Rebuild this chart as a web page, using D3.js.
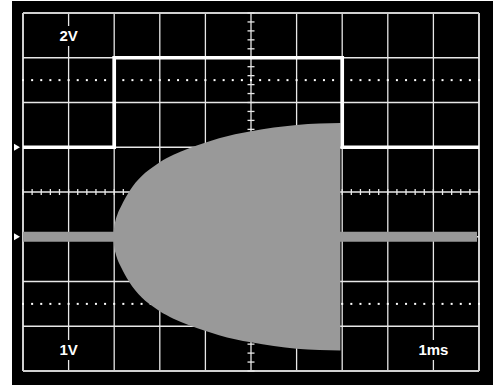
<!DOCTYPE html>
<html>
<head>
<meta charset="utf-8">
<script src="https://cdn.jsdelivr.net/npm/d3@7"></script>
<style>
  html, body { margin: 0; padding: 0; background: #fff; }
  svg { display: block; }
</style>
</head>
<body>
<svg id="scope" width="495" height="385"></svg>
<script>
// Values in screen divisions (10 across, 8 high, centre = 0)
const ch1Label = '2V';
const ch2Label = '1V';
const timeLabel = '1ms';

// channel 1: square wave (time div, level div)
const squareWave = [[0, 1], [2, 1], [2, 3], [7, 3], [7, 1], [10, 1]];

// channel 2: flat trace with a growing burst envelope
const ch2Base = -1;
const ch2Trace = [0, 10];
const envTime = [1.98, 2.0, 2.03, 2.07, 2.11, 2.16, 2.23, 2.31, 2.4, 2.53, 2.68, 2.85, 2.99, 3.3, 3.63, 3.99, 4.3, 4.65, 5.0, 5.5, 6.0, 6.5, 6.96];
const envAmp  = [0, 0.22, 0.37, 0.5, 0.6, 0.7, 0.84, 0.98, 1.12, 1.28, 1.43, 1.56, 1.66, 1.83, 1.97, 2.1, 2.2, 2.29, 2.36, 2.44, 2.5, 2.53, 2.54];

// markers on the left edge
const markerLevels = [1, -1];

const svg = d3.select('#scope');
const W = 495, H = 385;

const x = d3.scaleLinear().domain([0, 10]).range([23, 479]);
const y = d3.scaleLinear().domain([-4, 4]).range([371, 13]);

// screen
svg.append('rect')
    .attr('x', 12).attr('y', 1)
    .attr('width', 481).attr('height', H - 1)
    .attr('fill', '#000');

const grid = svg.append('g');

// major grid
d3.range(0, 11).forEach(i => {
    grid.append('line')
        .attr('x1', x(i)).attr('x2', x(i))
        .attr('y1', y(4)).attr('y2', y(-4))
        .attr('stroke', (i === 0 || i === 10) ? '#d0d0d0' : '#e8e8e8')
        .attr('stroke-width', (i === 0 || i === 10) ? 2 : 1.3);
});
d3.range(-4, 5).forEach(j => {
    grid.append('line')
        .attr('x1', x(0)).attr('x2', x(10))
        .attr('y1', y(j)).attr('y2', y(j))
        .attr('stroke', (j === -4 || j === 4) ? '#d0d0d0' : '#e8e8e8')
        .attr('stroke-width', (j === -4 || j === 4) ? 2 : 1.3);
});

// dotted lines
[2.5, -2.5].forEach(lv => {
    grid.selectAll(null)
        .data(d3.range(0, 51).map(k => k * 0.2))
        .join('rect')
        .attr('x', d => x(d) - 1)
        .attr('y', y(lv) - 1)
        .attr('width', 2).attr('height', 2)
        .attr('fill', '#fff');
});

// centre ticks
grid.selectAll(null)
    .data(d3.range(0, 51).map(k => k * 0.2))
    .join('line')
    .attr('x1', d => x(d)).attr('x2', d => x(d))
    .attr('y1', y(0) - 3).attr('y2', y(0) + 3)
    .attr('stroke', '#e8e8e8').attr('stroke-width', 1.3);
grid.selectAll(null)
    .data(d3.range(0, 41).map(k => -4 + k * 0.2))
    .join('line')
    .attr('x1', x(5) - 3.5).attr('x2', x(5) + 3.5)
    .attr('y1', d => y(d)).attr('y2', d => y(d))
    .attr('stroke', '#e8e8e8').attr('stroke-width', 1.3);

// labels with black boxes
const labels = [
    { text: ch1Label, t: 1, base: 41 },
    { text: ch2Label, t: 1, base: 355 },
    { text: timeLabel, t: 9, base: 355 }
];
labels.forEach(l => {
    const g = svg.append('g');
    const txt = g.append('text')
        .attr('x', x(l.t)).attr('y', l.base)
        .attr('text-anchor', 'middle')
        .attr('font-family', 'Liberation Sans, Arial, sans-serif')
        .attr('font-weight', 'bold')
        .attr('font-size', '15px')
        .attr('fill', '#fff')
        .text(l.text);
    const bb = txt.node().getBBox();
    g.insert('rect', 'text')
        .attr('x', bb.x - 2).attr('y', bb.y - 1)
        .attr('width', bb.width + 4).attr('height', bb.height + 3)
        .attr('fill', '#000');
});

// channel 2 trace
svg.append('line')
    .attr('x1', x(ch2Trace[0])).attr('x2', x(ch2Trace[1]) - 2)
    .attr('y1', y(ch2Base)).attr('y2', y(ch2Base))
    .attr('stroke', '#999').attr('stroke-width', 10);

const envData = envTime.map((t, i) => ({ t, a: envAmp[i] }));
svg.append('path')
    .datum(envData)
    .attr('fill', '#999')
    .attr('d', d3.area()
        .x(d => x(d.t))
        .y0(d => y(ch2Base - d.a))
        .y1(d => y(ch2Base + d.a))
        .curve(d3.curveMonotoneX));

// channel 1 square wave
svg.append('path')
    .datum(squareWave)
    .attr('fill', 'none')
    .attr('stroke', '#fff')
    .attr('stroke-width', 3.7)
    .attr('d', d3.line().x(d => x(d[0])).y(d => y(d[1])));

// ground markers
svg.selectAll('.marker')
    .data(markerLevels)
    .join('path')
    .attr('class', 'marker')
    .attr('d', d => `M14,${y(d) - 3.5} L20,${y(d)} L14,${y(d) + 3.5} Z`)
    .attr('fill', '#fff');
</script>
</body>
</html>
